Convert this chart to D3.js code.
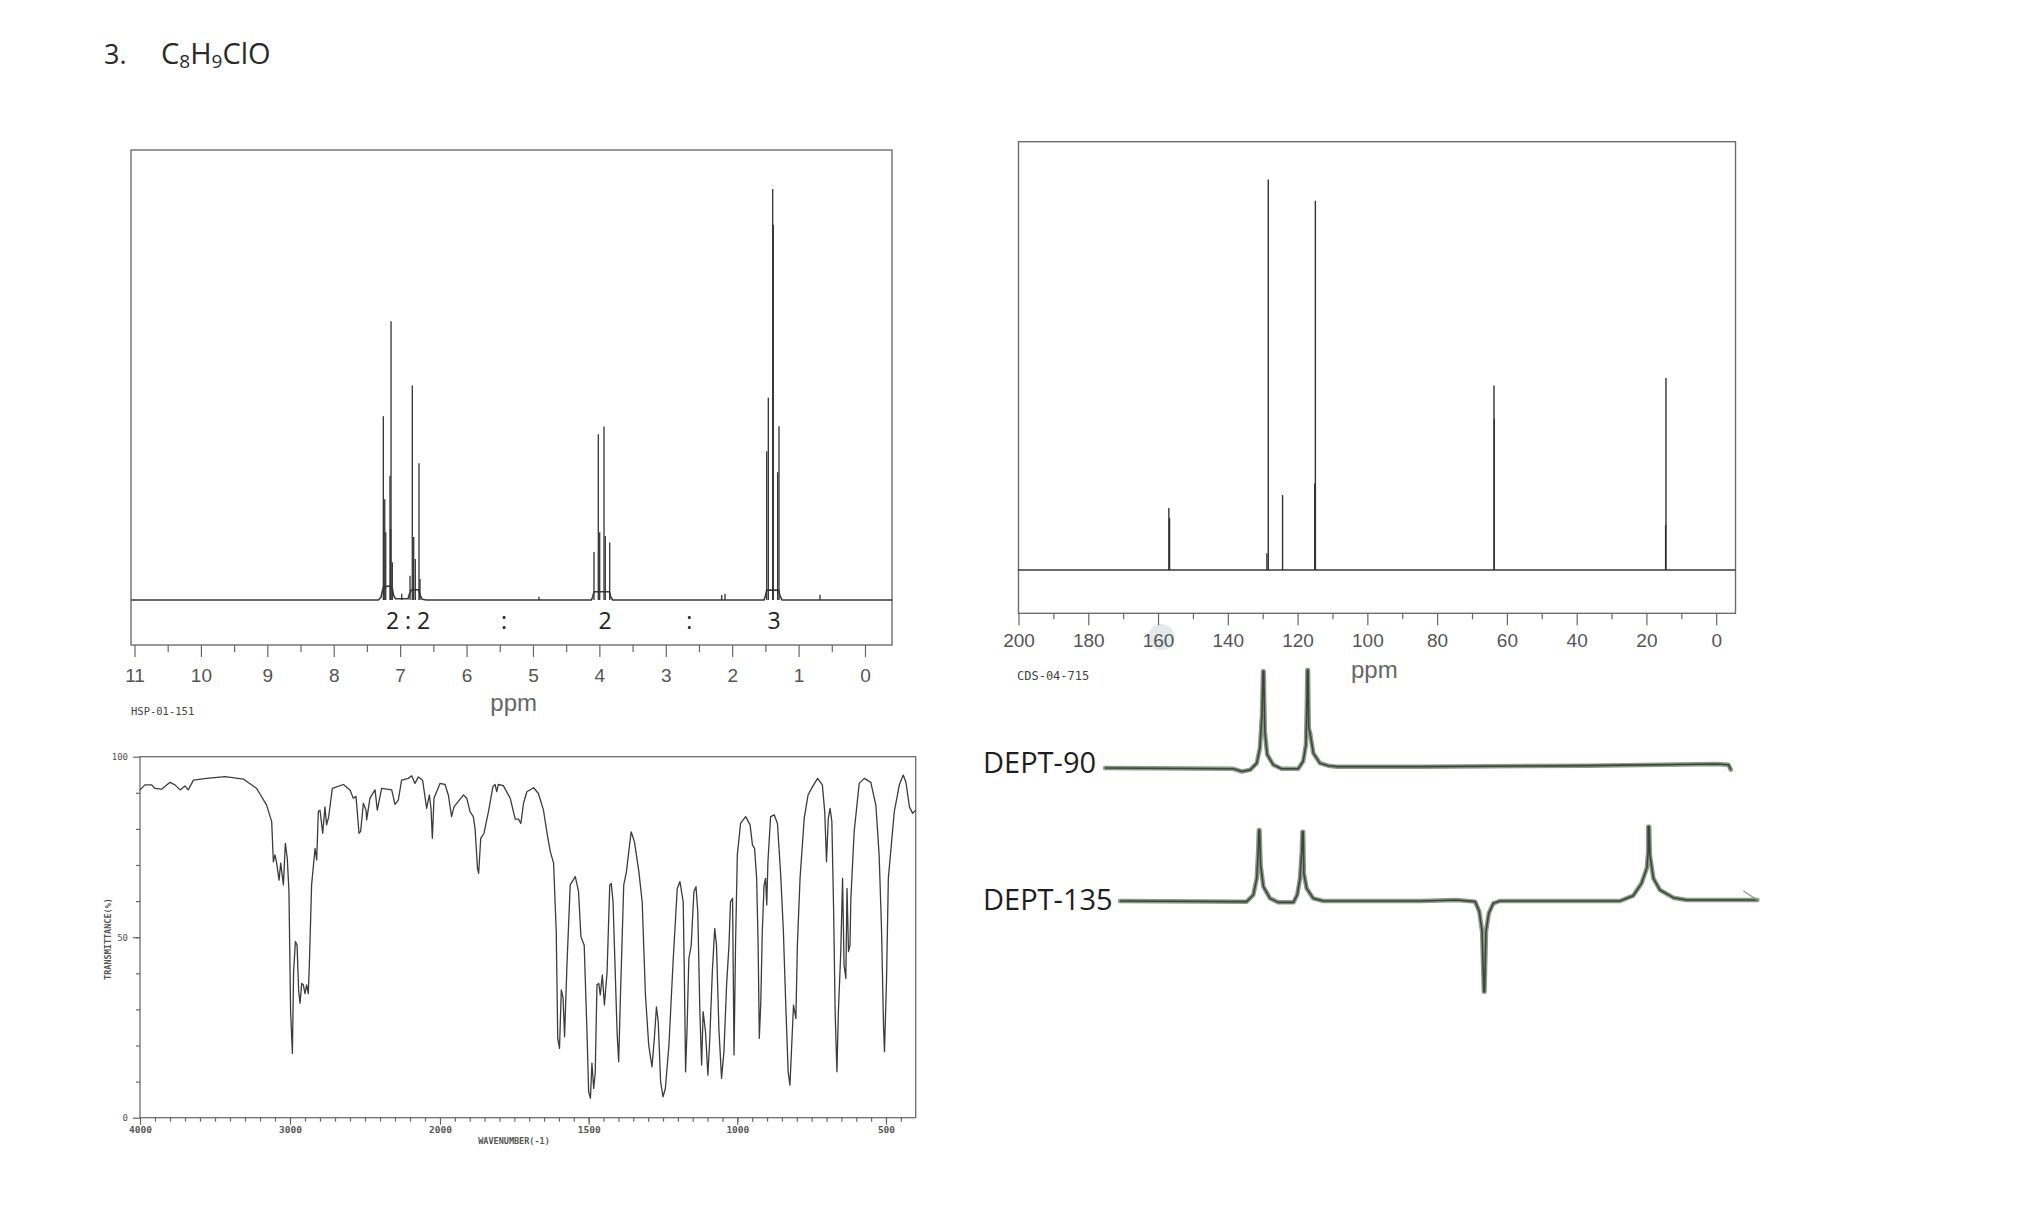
<!DOCTYPE html>
<html><head><meta charset="utf-8">
<script src="https://cdn.jsdelivr.net/npm/d3@7"></script>
<style>html,body{margin:0;padding:0;background:#fff}svg{display:block}</style>
</head><body>
<svg id="c" width="2040" height="1232"></svg>
<script>
// ---------------- DATA ----------------
const titleNumber = "3.";
const formulaParts = [["C",false],["8",true],["H",false],["9",true],["ClO",false]];

// 1H NMR: [ppm, relative intensity]
const hPeaks = [
  [7.253,44.7],[7.232,24.5],[7.217,16.5],[7.153,30.2],[7.142,17.2],[7.137,67.8],[7.118,9.2],
  [6.851,5.9],[6.817,52.2],[6.796,15.3],[6.772,10],[6.716,33.3],[6.701,5.1],
  [4.081,11.7],[4.016,40.3],[3.995,16.5],[3.930,42.2],[3.911,15.6],[3.844,14.0],
  [1.480,36.2],[1.456,49.2],[1.390,100],[1.381,91.3],[1.315,31.1],[1.295,42.3],
  [6.976,1.5],[4.909,0.8],[2.158,1.2],[2.108,1.5],[0.678,1.3]
];
const hTrace = [[11.05,0],[7.33,0],[7.29,0.6],[7.27,2],[7.25,3.2],[7.15,3.4],[7.12,3],[7.10,1.2],[7.07,0.3],[7.0,0.3],
  [6.88,0.3],[6.86,1.5],[6.83,2.5],[6.72,2.5],[6.70,1.2],[6.67,0.2],[6.6,0],[4.12,0],[4.10,0.8],[4.08,2],[3.85,2],
  [3.83,0.8],[3.80,0],[1.52,0],[1.50,1],[1.48,2.4],[1.30,2.4],[1.28,1],[1.25,0],[-0.41,0]];
const hTickLabels = [11,10,9,8,7,6,5,4,3,2,1,0];
const hIntegrals = [["2 : 2",6.88],[":",5.436],["2",3.915],[":",2.646],["3",1.37]];
const hCode = "HSP-01-151";

// 13C NMR: [ppm, intensity]
const cPeaks = [[156.9,14.5],[156.7,12.1],[128.4,91.2],[128.8,3.9],[124.3,17.5],
  [114.9,86.2],[115.1,20.2],[63.7,43.1],[63.6,35.2],[14.4,44.8],[14.5,10.5]];
const cTickLabels = [200,180,160,140,120,100,80,60,40,20,0];
const cCode = "CDS-04-715";

// DEPT traces: [ppm, intensity]
const dept90 = [[175.2,0],[138.4,-0.8],[136.0,-3.6],[133.6,-1.9],[131.7,5],[130.8,20.6],[130.2,55],[129.9,99.7],
  [129.7,99.7],[129.4,37.8],[128.7,13.7],[127.0,3.4],[124.6,-0.7],[119.8,-0.7],[118.4,6.9],[117.6,24],[117.3,72],
  [117.2,101],[117.0,101],[116.8,41],[116.4,36],[115.5,15.5],[113.6,5],[111.2,2.4],[108.8,1.4],[84.9,1.4],
  [37.1,2.4],[-0.1,4.1],[-3.5,3.4],[-4.2,-1.7]];
const dept135 = [[170.9,0],[134.6,-0.7],[132.7,6.7],[131.7,25.2],[131.3,54.8],[131.1,78.9],[130.9,78.9],[130.6,40],
  [129.8,15.9],[127.9,2.9],[125.5,-1.5],[121.2,-1.5],[120.1,6.7],[119.3,25.2],[118.8,54.8],[118.6,77],[118.4,77],
  [118.2,30.7],[117.4,14],[115.5,2.9],[112.6,0],[84.9,0],[74.4,1.1],[69.1,-0.7],[67.9,-11.8],[67.1,-34],
  [66.6,-100.7],[66.4,-100.7],[66.0,-34],[65.2,-13.7],[63.9,-2.6],[62.0,0],[27.6,0],[23.8,5.9],[21.4,19.6],
  [19.9,36.3],[19.5,54.8],[19.5,82.6],[19.2,82.6],[19.0,51.1],[18.0,25.2],[16.1,12.2],[12.3,3.7],[8.5,1.1],[-11.8,1.1]];
const deptLabels = ["DEPT-90","DEPT-135"];

// IR: [wavenumber, %T]
const irData = [[4000,90.8],[3967,92.2],[3922,92.2],[3900,91.2],[3856,91.0],[3800,92.9],[3767,92.2],[3733,90.8],[3700,91.9],[3678,90.8],[3644,93.5],[3556,94.0],[3433,94.5],[3311,93.8],[3222,91.2],[3156,86.6],[3122,82.0],[3111,70.9],[3100,72.8],[3089,70.5],[3073,65.8],[3062,70.5],[3044,64.5],[3031,76.0],[3018,71.8],[3007,62.6],[2996,29.4],[2984,17.8],[2976,40.4],[2964,48.8],[2953,47.8],[2942,34.9],[2933,31.7],[2922,37.2],[2911,36.8],[2900,34.4],[2889,36.8],[2878,34.4],[2871,42.3],[2856,64.5],[2833,74.6],[2822,71.4],[2811,84.8],[2800,85.2],[2782,78.8],[2767,86.1],[2756,81.1],[2742,83.4],[2718,91.2],[2644,92.3],[2600,90.8],[2578,88.5],[2560,89.0],[2540,78.8],[2529,79.3],[2511,87.1],[2493,85.2],[2489,82.5],[2467,88.5],[2433,90.8],[2418,85.2],[2389,91.2],[2322,90.8],[2300,86.8],[2278,88.0],[2256,93.5],[2211,94.0],[2189,94.7],[2167,92.6],[2144,94.4],[2116,93.5],[2089,85.7],[2071,89.4],[2060,85.7],[2051,77.4],[2040,88.5],[2000,92.6],[1983,92.3],[1972,89.4],[1961,83.4],[1953,86.1],[1921,89.4],[1910,88.5],[1899,84.8],[1888,83.4],[1882,80.1],[1874,69.1],[1870,67.7],[1863,77.4],[1852,78.8],[1837,84.8],[1822,91.7],[1815,92.3],[1809,90.3],[1804,92.3],[1787,92.0],[1764,88.5],[1747,82.7],[1736,82.7],[1728,81.5],[1719,87.1],[1708,90.3],[1685,91.4],[1669,89.8],[1652,85.2],[1640,78.8],[1629,73.7],[1618,70.5],[1609,51.5],[1604,22.0],[1598,19.2],[1592,35.4],[1586,33.1],[1581,22.4],[1573,42.3],[1562,64.5],[1545,66.8],[1534,62.6],[1526,50.1],[1515,47.8],[1506,24.7],[1500,7.2],[1494,5.4],[1489,15.1],[1483,8.1],[1478,12.3],[1472,36.8],[1466,37.2],[1461,34.0],[1454,39.5],[1447,31.2],[1438,40.4],[1429,64.5],[1424,64.9],[1418,59.8],[1410,38.6],[1404,22.9],[1399,15.5],[1393,34.0],[1382,64.5],[1373,68.1],[1365,73.7],[1357,79.2],[1346,76.4],[1331,68.1],[1320,59.8],[1309,34.0],[1298,20.1],[1287,14.1],[1279,22.0],[1272,30.7],[1266,26.6],[1258,10.0],[1250,5.8],[1242,8.1],[1230,20.1],[1216,43.2],[1202,63.5],[1193,65.4],[1182,59.8],[1178,38.6],[1174,12.7],[1169,24.7],[1163,44.1],[1155,47.8],[1146,62.6],[1139,64.0],[1133,57.1],[1126,29.4],[1120,14.6],[1115,29.4],[1107,23.8],[1099,11.8],[1093,21.1],[1084,40.4],[1076,52.4],[1070,47.8],[1062,24.7],[1053,10.9],[1045,18.3],[1036,36.8],[1028,47.8],[1023,59.8],[1016,60.8],[1011,17.4],[1006,47.8],[1000,72.8],[989,81.5],[972,83.4],[957,81.1],[949,75.5],[942,74.6],[935,66.3],[930,47.8],[926,22.0],[921,32.1],[916,51.5],[910,64.5],[905,66.3],[901,58.9],[897,70.9],[888,83.4],[876,83.9],[865,81.5],[854,67.2],[845,51.5],[837,31.2],[829,12.7],[823,9.0],[817,20.1],[811,31.2],[803,27.5],[798,47.8],[789,66.3],[775,82.9],[762,89.4],[747,91.7],[730,94.0],[714,92.2],[706,84.8],[700,70.9],[694,82.9],[688,85.7],[682,82.0],[676,57.1],[671,29.4],[665,12.7],[660,29.4],[652,46.0],[646,66.3],[641,42.3],[635,38.6],[631,63.5],[626,46.0],[621,47.8],[618,60.8],[607,79.2],[590,92.6],[573,94.0],[551,92.9],[534,86.6],[523,72.8],[515,52.4],[508,24.7],[505,18.3],[498,38.6],[492,66.3],[483,74.6],[472,84.8],[455,92.2],[442,94.9],[433,93.0],[421,86.1],[410,84.3],[400,85.2]];
const irXTickLabels = [4000,3000,2000,1500,1000,500];
const irYTickLabels = [100,50,0];
const irXTitle = "WAVENUMBER(-1)";
const irYTitle = "TRANSMITTANCE(%)";

// ---------------- DRAW ----------------
const svg = d3.select("#c");
svg.append("rect").attr("width",2040).attr("height",1232).attr("fill","#fff");

const boxStroke = "#6e6e6e";
const axisFont = "'Liberation Sans', Arial, sans-serif";
const monoFont = "'DejaVu Sans Mono', 'Liberation Mono', monospace";
const textFont = "'Open Sans', 'Noto Sans', sans-serif";

// Title
svg.append("text").attr("x",104).attr("y",64).attr("font-family",textFont).attr("font-size",27)
  .attr("fill","#2a2a2a").text(titleNumber);
const ft = svg.append("text").attr("x",161).attr("y",64).attr("font-family",textFont).attr("font-size",29)
  .attr("fill","#2a2a2a");
formulaParts.forEach(([t,sub],i)=>{
  const prevSub = i>0 && formulaParts[i-1][1];
  ft.append("tspan").text(t).attr("font-size", sub ? 19 : null).attr("dy", sub ? 4 : (prevSub ? -4 : 0));
});

function styleAxis(g, fontSize, fam, color){
  g.select(".domain").remove();
  g.selectAll(".tick line").attr("stroke","#666").attr("stroke-width",1.2);
  g.selectAll(".tick text").attr("font-family",fam).attr("font-size",fontSize).attr("fill",color);
}

// ===== 1H NMR =====
const hx = d3.scaleLinear().domain([11,0]).range([134.5,865]);
const hy = d3.scaleLinear().domain([0,100]).range([600,189]);
svg.append("rect").attr("x",131).attr("y",150).attr("width",761).attr("height",495)
  .attr("fill","none").attr("stroke",boxStroke).attr("stroke-width",1.4);
svg.append("path").datum(hTrace).attr("fill","none").attr("stroke","#3a3a3a").attr("stroke-width",1.6)
  .attr("stroke-linejoin","round")
  .attr("d", d3.line().x(d=>hx(d[0])).y(d=>hy(d[1])));
svg.append("g").selectAll("line").data(hPeaks).join("line")
  .attr("x1",d=>hx(d[0])).attr("x2",d=>hx(d[0])).attr("y1",hy(0)).attr("y2",d=>hy(d[1]))
  .attr("stroke","#333").attr("stroke-width",1.3);
const hMinor = svg.append("g").attr("transform","translate(0,645)")
  .call(d3.axisBottom(hx).tickValues(d3.range(0.5,11,1)).tickSize(7).tickFormat(""));
styleAxis(hMinor,19,axisFont,"#555");
const hMajor = svg.append("g").attr("transform","translate(0,645)")
  .call(d3.axisBottom(hx).tickValues(hTickLabels).tickSize(12).tickPadding(11.5).tickFormat(d3.format("d")));
styleAxis(hMajor,19,axisFont,"#555");
svg.append("g").selectAll("text").data(hIntegrals).join("text")
  .attr("x",d=>hx(d[1])).attr("y",629).attr("text-anchor","middle")
  .attr("font-family",textFont).attr("font-size",23).attr("fill","#222").text(d=>d[0]);
svg.append("text").attr("x",hx(5.29)).attr("y",711).attr("text-anchor","middle")
  .attr("font-family",axisFont).attr("font-size",24).attr("fill","#666").text("ppm");
svg.append("text").attr("x",131).attr("y",715).attr("font-family",monoFont).attr("font-size",10.5)
  .attr("fill","#444").text(hCode);

// ===== 13C NMR =====
const cx = d3.scaleLinear().domain([200,0]).range([1018.5,1716.2]);
const cy = d3.scaleLinear().domain([0,100]).range([570,141.7]);
svg.append("circle").attr("cx",cx(159)).attr("cy",637).attr("r",13).attr("fill","#e6e9ec");
svg.append("rect").attr("x",1018.5).attr("y",141.7).attr("width",717).attr("height",471.6)
  .attr("fill","none").attr("stroke",boxStroke).attr("stroke-width",1.4);
svg.append("line").attr("x1",cx(200.2)).attr("x2",1735.5).attr("y1",cy(0)).attr("y2",cy(0))
  .attr("stroke","#3a3a3a").attr("stroke-width",1.6);
svg.append("g").selectAll("line").data(cPeaks).join("line")
  .attr("x1",d=>cx(d[0])).attr("x2",d=>cx(d[0])).attr("y1",cy(0)).attr("y2",d=>cy(d[1]))
  .attr("stroke","#333").attr("stroke-width",1.4);
const cMinor = svg.append("g").attr("transform","translate(0,613.3)")
  .call(d3.axisBottom(cx).tickValues(d3.range(10,200,20)).tickSize(6).tickFormat(""));
styleAxis(cMinor,19,axisFont,"#555");
const cMajor = svg.append("g").attr("transform","translate(0,613.3)")
  .call(d3.axisBottom(cx).tickValues(cTickLabels).tickSize(12).tickPadding(8.5).tickFormat(d3.format("d")));
styleAxis(cMajor,19,axisFont,"#555");
svg.append("text").attr("x",cx(98)).attr("y",678).attr("text-anchor","middle")
  .attr("font-family",axisFont).attr("font-size",24).attr("fill","#666").text("ppm");
svg.append("text").attr("x",1017).attr("y",680).attr("font-family",monoFont).attr("font-size",12)
  .attr("fill","#444").text(cCode);

// ===== DEPT =====
const d90y = d3.scaleLinear().domain([0,100]).range([768,671]);
const d135y = d3.scaleLinear().domain([0,100]).range([901,811]);
function drawDept(data, yS){
  const ln = d3.line().x(d=>cx(d[0])).y(d=>yS(d[1]));
  svg.append("path").datum(data).attr("fill","none").attr("stroke","#8c9a88").attr("stroke-width",4.5)
    .attr("stroke-linejoin","round").attr("stroke-linecap","round").attr("d",ln);
  svg.append("path").datum(data).attr("fill","none").attr("stroke","#3d463c").attr("stroke-width",1.6)
    .attr("stroke-linejoin","round").attr("d",ln);
}
drawDept(dept90,d90y);
drawDept(dept135,d135y);
{
  const last = dept135[dept135.length-1];
  const ex = cx(last[0]), ey = d135y(last[1]);
  svg.append("path").attr("d",`M${ex-14},${ey-9} L${ex},${ey}`).attr("stroke","#8a9488").attr("stroke-width",1.4).attr("fill","none");
}
svg.append("g").selectAll("text").data(deptLabels).join("text")
  .attr("x",983).attr("y",(d,i)=>i===0?773:910)
  .attr("font-family",textFont).attr("font-size",29).attr("fill","#1e1e1e").text(d=>d);

// ===== IR =====
const irx = d3.scaleLinear().domain([4000,2000,400]).range([140,440,915.7]);
const iry = d3.scaleLinear().domain([0,100]).range([1117.7,756.7]);
svg.append("rect").attr("x",140).attr("y",756.7).attr("width",775.7).attr("height",361)
  .attr("fill","none").attr("stroke",boxStroke).attr("stroke-width",1.3);
svg.append("path").datum(irData).attr("fill","none").attr("stroke","#3c3c3c").attr("stroke-width",1.3)
  .attr("stroke-linejoin","round")
  .attr("d", d3.line().x(d=>irx(d[0])).y(d=>iry(d[1])));
const irMinorVals = d3.range(3900,2000,-100).concat(d3.range(1950,400,-50));
const irXm = svg.append("g").attr("transform","translate(0,1117.7)")
  .call(d3.axisBottom(irx).tickValues(irMinorVals).tickSize(4).tickFormat(""));
styleAxis(irXm,10,monoFont,"#555");
const irXM = svg.append("g").attr("transform","translate(0,1117.7)")
  .call(d3.axisBottom(irx).tickValues(irXTickLabels).tickSize(7).tickPadding(1.5).tickFormat(d3.format("d")));
styleAxis(irXM,10,monoFont,"#555");
irXM.selectAll(".tick text").attr("font-weight","bold").attr("font-size",9.5);
const irYm = svg.append("g").attr("transform","translate(140,0)")
  .call(d3.axisLeft(iry).tickValues(d3.range(10,100,10)).tickSize(4).tickFormat(""));
styleAxis(irYm,10,monoFont,"#555");
const irYM = svg.append("g").attr("transform","translate(140,0)")
  .call(d3.axisLeft(iry).tickValues(irYTickLabels).tickSize(7).tickPadding(5).tickFormat(d3.format("d")));
styleAxis(irYM,9,monoFont,"#555");
svg.append("text").attr("x",514).attr("y",1144).attr("text-anchor","middle")
  .attr("font-family",monoFont).attr("font-size",8.5).attr("font-weight","bold").attr("fill","#555").text(irXTitle);
svg.append("text").attr("transform","translate(111,939) rotate(-90)").attr("text-anchor","middle")
  .attr("font-family",monoFont).attr("font-size",8.5).attr("font-weight","bold").attr("fill","#555").text(irYTitle);
</script></body></html>
